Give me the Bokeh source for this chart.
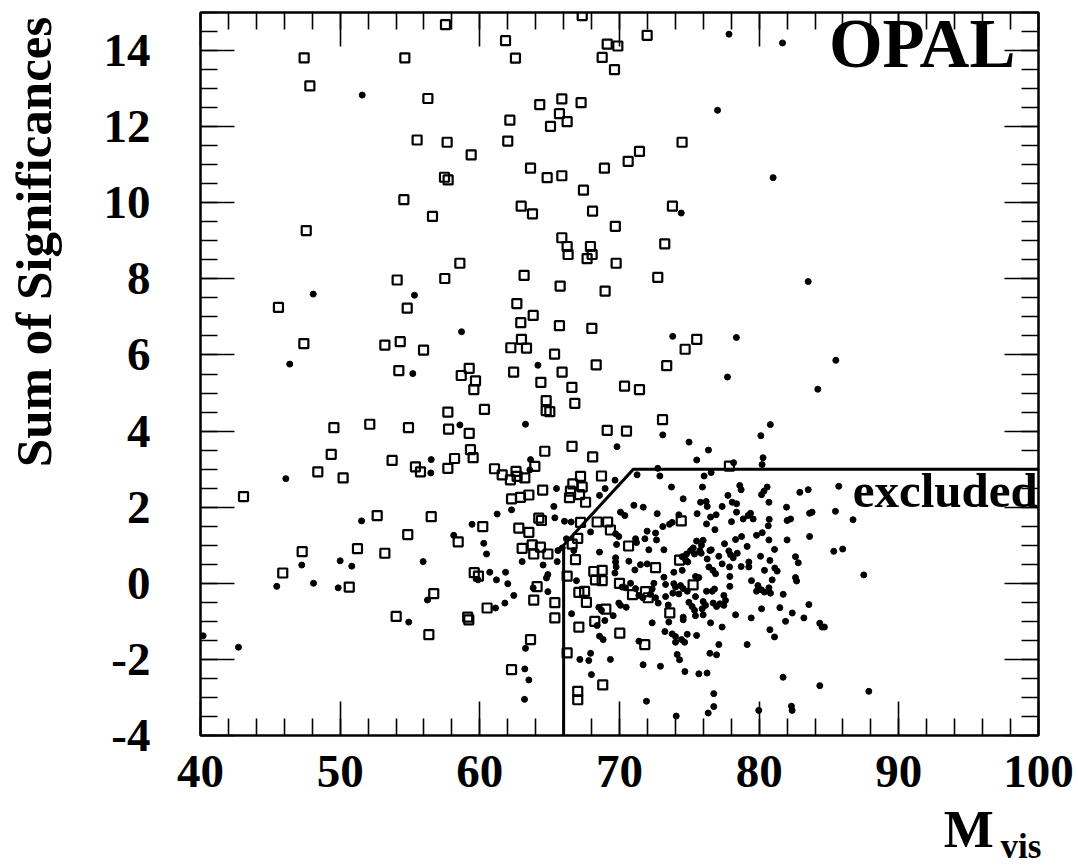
import math
from bokeh.plotting import figure
from bokeh.models import Range1d, LinearAxis, SingleIntervalTicker, Label, CustomJSTickFormatter
from bokeh.embed import file_html
from bokeh.resources import INLINE

# ---------------- data ----------------
# open squares (one population)
sq_x = [57.54, 47.42, 54.63, 47.83, 56.28, 55.51, 57.66, 59.38, 57.47, 57.73, 54.56, 56.61, 47.57,
        67.33, 61.84, 71.98, 69.12, 69.88, 62.55, 68.76, 69.64, 64.29, 65.87, 67.25, 62.15, 65.70,
        66.25, 65.06, 62.00, 74.48, 71.43, 70.62, 63.63, 64.82, 65.87, 68.92, 67.42, 62.96, 63.77,
        68.07, 73.79, 69.70, 65.87,
        58.57, 54.08, 57.49, 45.58, 54.80, 47.40, 53.20, 54.30, 55.97, 54.20, 59.24, 58.67, 59.69,
        59.57, 57.71, 49.55, 52.12, 54.89, 57.76, 59.24, 49.36, 53.72, 55.39, 55.75, 58.19, 59.33,
        59.52, 57.71, 48.40, 50.21,
        66.25, 66.32, 67.92, 68.04, 67.68, 73.24, 69.76, 63.17, 65.75, 68.97, 72.74, 62.65, 63.82,
        62.93, 65.70, 68.02, 62.98, 62.22, 63.34, 65.35, 75.53, 74.70, 73.38, 68.33, 62.42, 65.89,
        64.37, 66.59, 70.36, 71.43, 64.75, 64.75, 65.01, 66.80, 60.33, 73.08, 69.12, 70.50, 66.60,
        64.65, 68.08, 63.94, 61.05, 61.60, 62.59, 62.67, 62.19, 63.22, 67.21, 68.71, 77.87,
        43.08, 52.65, 56.52, 54.84, 51.24, 47.28, 53.20, 58.45, 45.89, 50.65, 56.70, 59.60, 59.90,
        54.01, 59.13, 59.21, 56.35,
        64.50, 62.27, 62.91, 63.51, 66.66, 67.33, 66.49, 67.14, 66.42, 67.57, 60.21, 62.79, 63.51,
        64.22, 64.41, 67.21, 68.40, 69.15, 69.35, 74.42, 63.03, 63.75, 64.34, 63.86, 64.87, 67.01,
        66.61, 66.85, 70.65, 74.30, 72.58, 66.25, 68.16, 68.76, 68.28, 68.76, 70.00, 70.93, 71.86,
        72.05, 75.27, 64.10, 67.09, 67.50, 67.63, 63.86, 65.37, 65.37, 69.02, 60.52, 73.60, 68.23,
        67.09, 70.02, 71.81, 63.63, 66.25, 62.27, 68.80, 67.01, 67.01]
sq_y = [14.68, 13.81, 13.81, 13.07, 12.74, 11.65, 11.59, 11.26, 10.67, 10.60, 10.08, 9.64, 9.27,
        14.92, 14.26, 14.40, 14.17, 14.12, 13.80, 13.82, 13.50, 12.58, 12.73, 12.63, 12.17, 12.34,
        12.13, 12.01, 11.62, 11.59, 11.35, 11.09, 10.91, 10.66, 10.71, 10.91, 10.33, 9.91, 9.71,
        9.78, 9.91, 9.38, 9.08,
        8.41, 7.97, 8.01, 7.25, 7.23, 6.30, 6.26, 6.35, 6.13, 5.59, 5.65, 5.46, 5.32,
        5.09, 4.50, 4.09, 4.18, 4.09, 4.05, 3.94, 3.39, 3.23, 3.06, 2.93, 3.28, 3.51,
        3.30, 3.02, 2.93, 2.77,
        8.85, 8.64, 8.85, 8.64, 8.53, 8.92, 8.41, 8.09, 7.81, 7.68, 8.04, 7.35, 7.04,
        6.85, 6.77, 6.70, 6.41, 6.19, 6.18, 6.02, 6.41, 6.15, 5.72, 5.74, 5.55, 5.55,
        5.28, 5.15, 5.18, 5.09, 4.80, 4.54, 4.51, 4.73, 4.57, 4.30, 4.02, 4.00, 3.60,
        3.47, 3.32, 3.07, 3.01, 2.85, 2.94, 2.81, 2.72, 2.77, 2.81, 2.82, 3.08,
        2.28, 1.78, 1.75, 1.28, 0.91, 0.83, 0.79, 1.09, 0.27, -0.10, -0.27, 0.28, 0.19,
        -0.87, -0.89, -0.96, -1.35,
        2.45, 2.22, 2.26, 2.32, 2.61, 2.53, 2.42, 2.33, 2.25, 2.13, 1.49, 1.45, 1.34,
        1.71, 1.65, 1.60, 1.61, 1.61, 1.40, 1.64, 0.92, 1.01, 0.95, 0.77, 0.77, 1.18,
        1.03, 0.62, 0.98, 0.61, 0.41, 0.19, 0.31, 0.34, 0.09, 0.07, 0.00, -0.30, -0.22,
        -0.38, -0.04, -0.09, -0.24, -0.21, -0.50, -0.44, -0.51, -0.91, -0.68, -0.65, -0.78, -1.00,
        -1.15, -1.31, -1.61, -1.48, -1.83, -2.27, -2.67, -2.84, -3.06]

# filled dots (second population)
dot_x = [51.58, 77.84, 77.02, 74.42, 81.67, 81.00,
         48.07, 55.32, 58.69, 46.39, 55.20, 58.57, 56.52, 56.49, 46.11,
         64.16, 73.81, 78.37, 77.73, 63.27, 73.10, 80.12, 80.80, 74.98, 76.37, 69.82, 75.53, 80.28,
         80.21, 78.17, 63.63, 63.58, 72.74, 71.26, 72.89, 76.56, 76.06, 69.68, 73.72, 75.94, 78.61,
         80.57, 65.49, 68.97,
         83.51, 85.49, 84.20,
         51.53, 59.44, 58.13, 47.25, 50.00, 50.83, 55.94, 45.46, 48.09, 49.86, 56.25, 54.91, 40.19,
         42.72, 59.87,
         65.30, 62.27, 61.24, 65.37, 60.28, 60.48, 63.03, 64.53, 60.71, 61.84, 61.19, 62.00, 64.87,
         64.77, 63.82, 64.87, 62.43, 61.79, 61.12, 63.27, 65.54,
         68.57, 71.03, 71.70, 70.07, 70.38, 72.70, 74.25, 66.06, 66.54, 67.93, 69.72, 69.95, 71.98,
         72.58, 73.10, 73.58, 73.77, 71.15, 71.22, 71.82, 72.65, 69.79, 72.10, 73.18, 68.57, 65.59,
         65.90, 66.20, 66.73, 69.72, 69.72, 69.76, 70.67, 71.50, 71.98, 71.10, 73.89, 74.49, 69.67,
         66.92, 73.18, 70.19, 70.43, 70.79, 71.15, 72.46, 73.30, 73.89, 74.01, 74.37, 72.34, 72.22,
         71.39, 71.67, 72.58, 72.77, 73.30, 73.82, 74.25, 69.95, 70.07, 70.48, 68.52, 68.71, 69.55,
         66.57, 73.49, 73.53, 73.25, 73.77, 74.01, 72.34, 68.40, 68.95, 68.57, 68.83, 71.39, 74.01,
         74.44, 67.93,
         78.71, 80.34, 80.17, 82.91, 83.51, 74.56, 75.80, 76.21, 76.28, 77.76, 78.07, 78.38, 80.70,
         77.35, 75.56, 76.52, 76.92, 78.38, 79.38, 79.21, 78.86, 79.57, 78.02, 80.72, 80.65, 81.96,
         82.00, 82.25, 83.61, 76.23, 76.83, 80.22, 79.81, 78.74, 78.31, 77.52, 80.70, 82.00, 83.61,
         79.14, 81.10, 75.52, 75.99, 75.87, 75.28, 75.09, 75.75, 75.85, 76.47, 76.57, 74.80, 74.49,
         75.37, 77.83, 77.95, 78.14, 78.43, 80.10, 82.60, 82.80, 76.28, 77.11, 77.35, 80.77, 74.73,
         74.89, 78.71, 79.26, 79.26, 77.88, 76.40, 76.69, 76.88, 80.38, 81.12, 81.29, 75.44, 75.68,
         77.90, 79.45, 82.60, 82.68, 80.93, 79.91, 80.15, 79.81, 80.38, 80.70, 80.81, 77.90, 74.56,
         74.85, 76.23, 76.64, 76.80, 75.44, 77.47, 77.59, 81.72, 74.97, 75.20, 75.37, 75.99, 76.16,
         76.71, 76.95, 77.19, 77.47, 75.92, 75.44, 75.99, 74.56, 74.56, 78.31, 80.17, 81.48, 82.37,
         83.20, 83.56, 79.43, 76.52, 77.35, 80.77, 81.89, 74.85, 74.66, 75.52, 81.10, 77.11, 79.14,
         76.47, 76.95,
         85.70, 83.79, 85.46, 86.72, 85.34, 85.98, 87.49, 84.34, 84.50, 84.67, 81.71, 84.34, 87.85,
         82.31, 82.36,
         63.22, 63.51, 63.20, 67.16, 67.80, 69.35, 67.99, 71.69, 72.93, 71.93, 74.06, 74.30, 74.68,
         75.68, 76.27, 76.75, 76.75, 76.35, 79.97, 74.13]
dot_y = [12.83, 14.43, 12.43, 9.73, 14.20, 10.66,
         7.60, 7.57, 6.61, 5.76, 5.51, 4.16, 3.25, 2.90, 2.75,
         5.73, 6.49, 6.46, 5.42, 4.18, 3.90, 3.88, 4.17, 3.71, 3.50, 3.59, 3.24, 3.30,
         3.12, 3.17, 3.25, 2.98, 3.02, 2.85, 2.82, 2.91, 2.82, 2.71, 2.53, 2.53, 2.57,
         2.53, 2.49, 2.49,
         7.93, 5.86, 5.10,
         1.64, 1.55, 1.26, 0.48, 0.59, 0.45, 0.57, -0.08, 0.00, -0.12, -0.44, -1.02, -1.38,
         -1.68, 0.09,
         2.02, 1.93, 1.82, 1.72, 1.05, 0.77, 0.57, 0.48, 0.29, 0.29, 0.09, -0.01, 0.23,
         0.14, -0.12, -0.22, -0.32, -0.52, -0.65, -1.71, 0.57,
         2.31, 2.05, 2.00, 1.87, 1.78, 1.83, 1.80, 1.63, 1.61, 1.35, 1.30, 1.23, 1.37,
         1.32, 1.49, 1.55, 1.60, 1.17, 1.07, 1.17, 1.14, 1.02, 0.88, 0.88, 0.82, 0.86,
         0.93, 1.17, 0.86, 0.67, 0.56, 0.43, 0.58, 0.49, 0.51, 0.35, 0.29, 0.34, 0.27,
         0.07, 0.16, -0.10, -0.12, 0.00, -0.14, 0.00, -0.03, -0.01, -0.10, -0.06, -0.15, -0.29,
         -0.32, -0.38, -0.38, -0.52, -0.35, -0.26, -0.28, -0.52, -0.58, -0.63, -0.63, -0.71, -0.85,
         -0.80, -0.57, -1.02, -1.27, -1.33, -1.40, -1.04, -1.11, -0.98, -1.39, -1.48, -1.52, -1.55,
         -1.48, -1.84,
         2.46, 2.42, 2.33, 2.39, 2.46, 2.22, 2.13, 2.15, 2.02, 2.31, 2.13, 2.09, 2.13,
         2.02, 1.83, 1.74, 1.80, 1.87, 1.84, 1.78, 1.69, 1.69, 1.62, 1.68, 1.51, 2.00,
         1.65, 1.69, 1.84, 1.56, 1.41, 1.33, 1.26, 1.23, 1.15, 1.04, 1.14, 1.14, 1.23,
         0.97, 0.89, 1.11, 1.13, 1.00, 0.93, 0.86, 0.86, 0.79, 0.86, 0.88, 0.77, 0.70,
         0.77, 0.85, 0.75, 0.67, 0.79, 0.71, 0.70, 0.54, 0.64, 0.71, 0.51, 0.60, 0.62,
         0.56, 0.44, 0.43, 0.56, 0.43, 0.43, 0.34, 0.25, 0.34, 0.40, 0.32, 0.18, 0.15,
         0.18, 0.07, 0.15, 0.06, 0.09, -0.06, -0.17, -0.21, -0.23, -0.12, -0.26, -0.08, -0.14,
         -0.21, -0.21, -0.21, -0.15, -0.35, -0.32, -0.45, -0.29, -0.50, -0.61, -0.71, -0.48, -0.58,
         -0.52, -0.61, -0.54, -0.58, -0.67, -0.85, -0.83, -0.89, -0.96, -0.83, -0.67, -0.64, -0.78,
         -0.91, -0.56, -0.91, -1.04, -1.15, -1.22, -1.00, -1.34, -1.55, -1.37, -1.41, -1.61, -1.61,
         -1.84, -1.88,
         2.55, 1.87, 1.89, 1.67, 0.84, 0.90, 0.22, -1.05, -1.15, -1.15, -2.47, -2.69, -2.84,
         -3.23, -3.34,
         -2.25, -2.54, -3.05, -2.00, -2.03, -2.00, -2.40, -2.14, -2.18, -3.10, -3.49, -2.01, -2.32,
         -2.38, -2.36, -2.90, -3.24, -3.41, -3.34, -1.87]

# selection boundary ("excluded" region)
cut_x = [66, 66, 71, 100]
cut_y = [-4, 1, 3, 3]

x_range = (40, 100)
y_range = (-4, 15)
y_label_overrides = {-4: "-4", -2: "-2"}

FONT = "Liberation Serif"

# ---------------- figure ----------------
p = figure(width=1078, height=865, x_range=Range1d(*x_range), y_range=Range1d(*y_range),
           output_backend="svg", toolbar_location=None,
           min_border_left=200, min_border_right=40, min_border_top=12, min_border_bottom=130)
p.grid.visible = False
p.outline_line_color = "black"
p.outline_line_width = 2
p.background_fill_color = "white"
p.border_fill_color = "white"


def style_axis(ax, interval, nminor, labels=True):
    ax.ticker = SingleIntervalTicker(interval=interval, num_minor_ticks=nminor)
    ax.major_tick_in = 34
    ax.major_tick_out = 0
    ax.minor_tick_in = 17
    ax.minor_tick_out = 0
    ax.major_tick_line_width = 1.6
    ax.minor_tick_line_width = 1.6
    ax.major_tick_line_color = "black"
    ax.minor_tick_line_color = "black"
    ax.axis_line_width = 2
    ax.axis_line_color = "black"
    if labels:
        ax.major_label_text_font = FONT
        ax.major_label_text_font_style = "bold"
        ax.major_label_text_font_size = "47px"
        ax.major_label_text_color = "black"
    else:
        ax.formatter = CustomJSTickFormatter(code="return ''")
        ax.major_label_text_font_size = "0px"
        ax.major_label_standoff = 0


style_axis(p.xaxis[0], 10, 5)
p.xaxis[0].major_label_standoff = 20
style_axis(p.yaxis[0], 2, 4)
p.yaxis[0].major_label_standoff = 50
p.yaxis[0].major_label_overrides = y_label_overrides

top_ax = LinearAxis()
style_axis(top_ax, 10, 5, labels=False)
p.add_layout(top_ax, "above")
right_ax = LinearAxis()
style_axis(right_ax, 2, 4, labels=False)
p.add_layout(right_ax, "right")

# ---------------- marks ----------------
p.line(cut_x, cut_y, line_color="black", line_width=3)
p.scatter(dot_x, dot_y, marker="circle", size=6, fill_color="black", line_color="black")
p.scatter(sq_x, sq_y, marker="square", size=9, fill_color=None, line_color="black", line_width=2.2)

# ---------------- texts ----------------
p.add_layout(Label(x=98.35, y=14.16, text="OPAL", text_align="right", text_baseline="alphabetic",
                   text_font=FONT, text_font_style="bold", text_font_size="69px", text_color="black"))
p.add_layout(Label(x=99.95, y=2.44, text="excluded", text_align="right", text_baseline="alphabetic",
                   text_font=FONT, text_font_style="bold", text_font_size="49px", text_color="black"))

# texts outside the frame live in side panels (not clipped to the frame)
ytitle = Label(x=28.1, y=14.89, text="Sum of Significances", angle=math.pi / 2,
               text_align="right", text_baseline="alphabetic",
               text_font=FONT, text_font_style="bold", text_font_size="51px", text_color="black")
p.add_layout(ytitle, "left")
vis_label = Label(x=97.28, y=-6.91, text="vis", text_align="left", text_baseline="alphabetic",
                  text_font=FONT, text_font_style="bold", text_font_size="35px", text_color="black")
p.add_layout(vis_label, "left")
m_label = Label(x=96.8, y=-6.47, text="M", text_align="right", text_baseline="alphabetic",
                text_font=FONT, text_font_style="bold", text_font_size="53px", text_color="black")
p.add_layout(m_label, "below")

open("out.html", "w").write(file_html(p, INLINE))
